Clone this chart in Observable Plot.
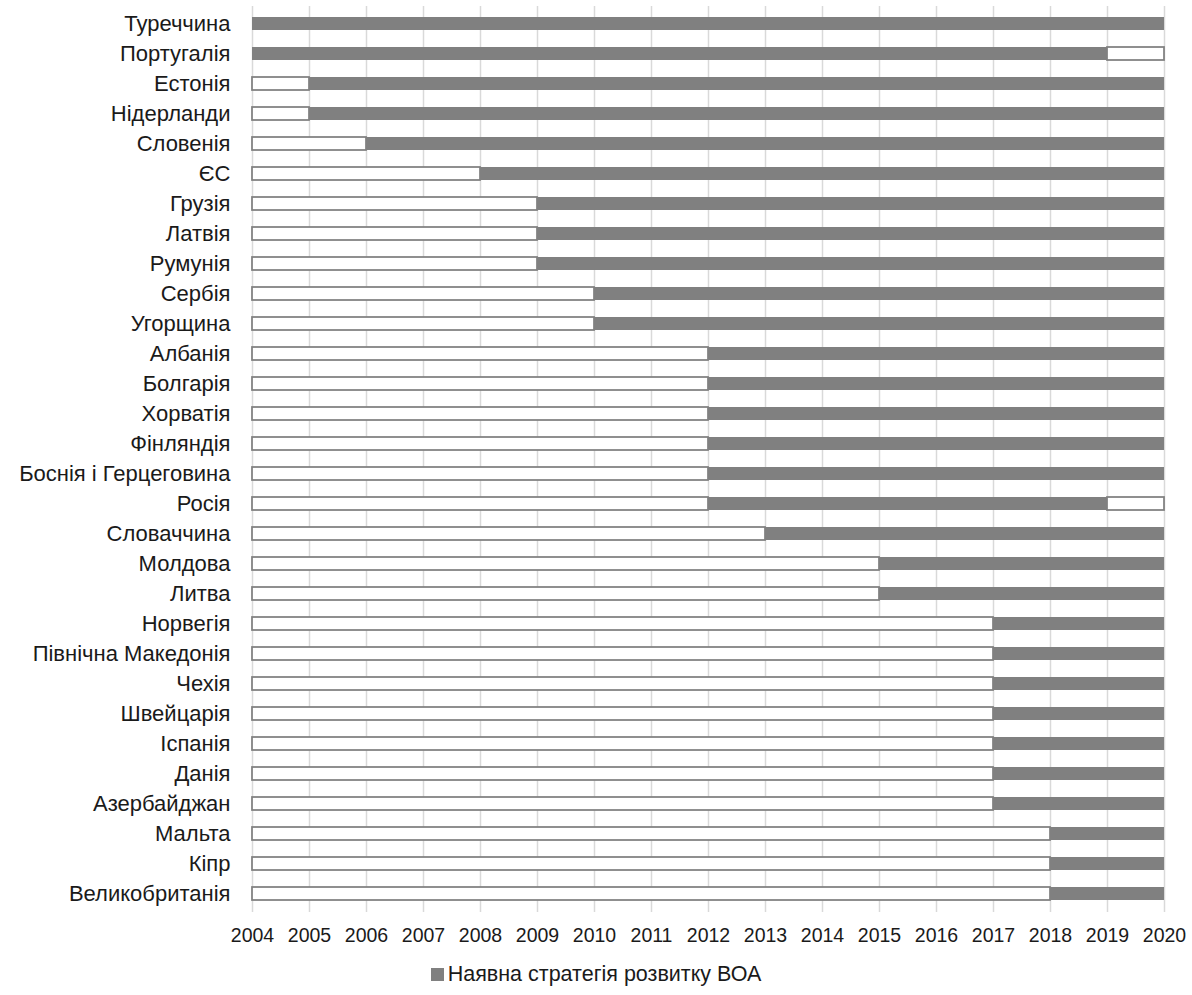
<!DOCTYPE html>
<html>
<head>
<meta charset="utf-8">
<script src="https://cdn.jsdelivr.net/npm/d3@7"></script>
<script src="https://cdn.jsdelivr.net/npm/@observablehq/plot@0.6"></script>
<style>
  body { margin: 0; background: #fff; font-family: "Liberation Sans", Arial, sans-serif; }
  #legend { text-align: center; margin-top: 12px; font-size: 21.5px; color: #1a1a1a; line-height: 24px; }
  #legend .sw { display: inline-block; width: 13px; height: 13px; background: #808080; margin-right: 4px; vertical-align: 0px; }
</style>
</head>
<body>
<div id="chart"></div>
<div id="legend"><span class="sw"></span>Наявна стратегія розвитку ВОА</div>
<script>
const countries = ["Туреччина","Португалія","Естонія","Нідерланди","Словенія","ЄС","Грузія","Латвія","Румунія","Сербія","Угорщина","Албанія","Болгарія","Хорватія","Фінляндія","Боснія і Герцеговина","Росія","Словаччина","Молдова","Литва","Норвегія","Північна Македонія","Чехія","Швейцарія","Іспанія","Данія","Азербайджан","Мальта","Кіпр","Великобританія"];
const startYears = [2004,2004,2005,2005,2006,2008,2009,2009,2009,2010,2010,2012,2012,2012,2012,2012,2012,2013,2015,2015,2017,2017,2017,2017,2017,2017,2017,2018,2018,2018];
const endYears   = [2020,2019,2020,2020,2020,2020,2020,2020,2020,2020,2020,2020,2020,2020,2020,2020,2019,2020,2020,2020,2020,2020,2020,2020,2020,2020,2020,2020,2020,2020];
const years = d3.range(2004, 2021);
const axisStart = 2004, axisEnd = 2020;

const rows = countries.map((c, i) => ({country: c, start: startYears[i], end: endYears[i]}));
const emptyBefore = rows.filter(d => d.start > axisStart).map(d => ({country: d.country, x1: axisStart, x2: d.start}));
const emptyAfter = rows.filter(d => d.end < axisEnd).map(d => ({country: d.country, x1: d.end, x2: axisEnd}));
const empty = emptyBefore.concat(emptyAfter);

const chart = Plot.plot({
  width: 1192,
  height: 950,
  marginLeft: 252,
  marginRight: 28,
  marginTop: 6,
  marginBottom: 38,
  style: {fontFamily: "'Liberation Sans', Arial, sans-serif", color: "#1a1a1a", background: "#fff"},
  x: {domain: [axisStart, axisEnd], label: null},
  y: {domain: countries, paddingInner: 0.55, paddingOuter: 0.25, label: null},
  marks: [
    Plot.ruleX(years, {stroke: "#d9d9d9", strokeWidth: 1.5}),
    Plot.barX(empty, {y: "country", x1: "x1", x2: "x2", fill: "#fff", stroke: "#808080", strokeWidth: 1.75}),
    Plot.barX(rows, {y: "country", x1: "start", x2: "end", fill: "#808080"}),
    Plot.axisY({tickSize: 0, tickPadding: 22, fontSize: 22, label: null}),
    Plot.axisX({ticks: years, tickFormat: d => String(d), tickSize: 0, tickPadding: 16, fontSize: 19.5, label: null})
  ]
});
document.getElementById("chart").appendChild(chart);
</script>
</body>
</html>
